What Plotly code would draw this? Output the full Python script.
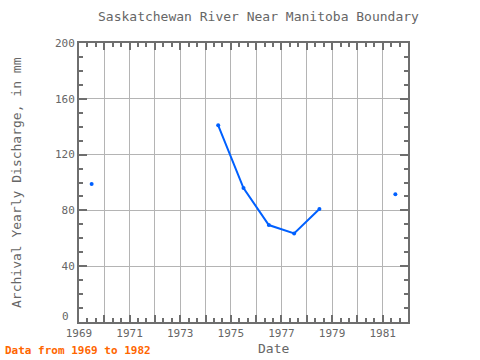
import plotly.graph_objects as go

years = [1969.5, 1970.5, 1971.5, 1972.5, 1973.5, 1974.5, 1975.5, 1976.5, 1977.5, 1978.5, 1979.5, 1980.5, 1981.5]
discharge = [99, None, None, None, None, 141, 96, 69.5, 63.5, 81, None, None, 91.5]

x_tickvals = list(range(1969, 1983))
x_ticktext = [str(y) if (y - 1969) % 2 == 0 and y < 1982 else "" for y in x_tickvals]
y_tickvals = [0, 40, 80, 120, 160, 200]
y_ticktext = ["", "40", "80", "120", "160", "200"]
y_zero_label = "0"

title_text = "Saskatchewan River Near Manitoba Boundary"
x_title = "Date"
y_title = "Archival Yearly Discharge, in mm"
footnote = "Data from 1969 to 1982"

FONT = "DejaVu Sans Mono"
GREY = "#666666"
AXIS = "#6e6e6e"

fig = go.Figure()
fig.add_trace(go.Scatter(
    x=years, y=discharge, mode="lines+markers",
    line=dict(color="#0060ff", width=2),
    marker=dict(color="#0060ff", size=4),
    connectgaps=False, showlegend=False, hoverinfo="skip",
))

axis_common = dict(
    showline=True, linecolor=AXIS, linewidth=2, mirror="ticks",
    ticks="inside", tickcolor=AXIS, tickwidth=2,
    showgrid=True, gridcolor="#b4b4b4", gridwidth=1,
    zeroline=False,
    tickfont=dict(family=FONT, size=11, color=GREY),
)

fig.update_xaxes(
    range=[1969, 1982], tickmode="array", tickvals=x_tickvals, ticktext=x_ticktext,
    ticklen=7,
    minor=dict(dtick=1/3, tick0=1969, ticklen=4, tickcolor=AXIS, tickwidth=2, ticks="inside", showgrid=False),
    **axis_common,
)
fig.update_yaxes(
    range=[0, 200], tickmode="array", tickvals=y_tickvals, ticktext=y_ticktext,
    ticklen=8,
    minor=dict(dtick=10, tick0=0, ticklen=4, tickcolor=AXIS, tickwidth=2, ticks="inside", showgrid=False),
    **axis_common,
)

fig.update_layout(
    width=480, height=360,
    margin=dict(l=79, r=72, t=43, b=38),
    paper_bgcolor="white", plot_bgcolor="white",
    font=dict(family=FONT, color=GREY),
    annotations=[
        dict(text=title_text, xref="paper", yref="paper", x=0.547, y=1, yshift=17,
             xanchor="center", yanchor="bottom", showarrow=False,
             font=dict(family=FONT, size=13, color=GREY)),
        dict(text=x_title, xref="paper", yref="paper", x=0.59, y=0, yshift=-17,
             xanchor="center", yanchor="top", showarrow=False,
             font=dict(family=FONT, size=13, color=GREY)),
        dict(text=y_title, xref="paper", yref="paper", x=0, xshift=-53, y=0.5,
             xanchor="right", yanchor="middle", textangle=-90, showarrow=False,
             font=dict(family=FONT, size=13, color=GREY)),
        dict(text=y_zero_label, xref="paper", yref="y", x=0, xshift=-8, y=0, yshift=6,
             xanchor="right", yanchor="middle", showarrow=False,
             font=dict(family=FONT, size=11, color=GREY)),
        dict(text="<b>" + footnote + "</b>", xref="paper", yref="paper", x=0, xshift=-76, y=0,
             yshift=-37, xanchor="left", yanchor="bottom", showarrow=False,
             font=dict(family=FONT, size=11, color="#ff6600")),
    ],
)

fig.write_html("out.html", config={"displayModeBar": False},
               post_script="document.body.style.margin='0';document.body.style.padding='0';")
